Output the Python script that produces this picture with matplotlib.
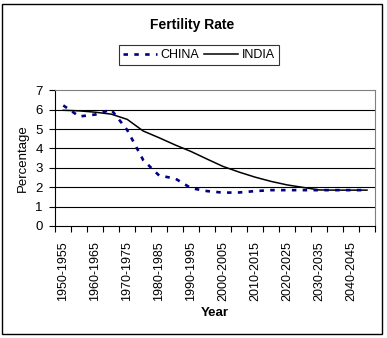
import matplotlib
matplotlib.use("Agg")
import matplotlib.pyplot as plt
from matplotlib.patches import Rectangle

plt.rcParams['font.family'] = ['Liberation Sans', 'DejaVu Sans']

periods = ["1950-1955", "1955-1960", "1960-1965", "1965-1970", "1970-1975",
           "1975-1980", "1980-1985", "1985-1990", "1990-1995", "1995-2000",
           "2000-2005", "2005-2010", "2010-2015", "2015-2020", "2020-2025",
           "2025-2030", "2030-2035", "2035-2040", "2040-2045", "2045-2050"]
china = [6.22, 5.65, 5.75, 6.0, 4.95, 3.4, 2.6, 2.45, 1.95, 1.8,
         1.72, 1.73, 1.8, 1.85, 1.85, 1.85, 1.85, 1.85, 1.85, 1.85]
india = [5.97, 5.94, 5.87, 5.77, 5.5, 4.9, 4.55, 4.18, 3.84, 3.45,
         3.07, 2.78, 2.52, 2.3, 2.12, 1.99, 1.86, 1.85, 1.85, 1.85]
yticks = [0, 1, 2, 3, 4, 5, 6, 7]

W, H = 387, 338
fig = plt.figure(figsize=(W / 100, H / 100), dpi=100)
fig.patch.set_facecolor('white')

def fx(px):
    return px / W

def fy(py):
    return 1 - py / H

# outer border
fig.patches.append(Rectangle((fx(2), fy(334)), (380) / W, (330) / H,
                             transform=fig.transFigure, fill=False,
                             edgecolor='black', linewidth=1.0))

ax = fig.add_axes([fx(55.3), fy(226), 319.7 / W, 135.7 / H])
x = list(range(len(periods)))

ax.plot(x, india, color='black', linewidth=1.1, label='INDIA', zorder=3)
ax.plot(x, china, color='#000080', linewidth=1.9, linestyle=(0, (1.7, 2.4)),
        dash_capstyle='butt', label='CHINA', zorder=4)

ax.set_xlim(-0.5, len(periods) - 0.5)
ax.set_ylim(0, 7)
ax.set_yticks(yticks)
for v in yticks[1:-1]:
    ax.axhline(v, color='black', linewidth=0.8, zorder=1)

ax.set_xticks([i - 0.5 for i in range(len(periods) + 1)])
ax.set_xticklabels([])
ax.set_xticks(x[::2], minor=True)
ax.set_xticklabels(periods[::2], minor=True, rotation=90, fontsize=9)
ax.tick_params(axis='x', which='minor', length=0, pad=11)
ax.tick_params(axis='x', which='major', length=4, width=0.8, direction='out')
ax.tick_params(axis='y', length=4, width=0.8, direction='out', pad=5, labelsize=9.5)

for s in ['top', 'right']:
    ax.spines[s].set_color('#808080')
    ax.spines[s].set_linewidth(0.8)
for s in ['left', 'bottom']:
    ax.spines[s].set_color('black')
    ax.spines[s].set_linewidth(0.8)

fig.text(fx(192), fy(25), 'Fertility Rate', ha='center', va='center',
         fontsize=10, fontweight='bold')
fig.text(fx(23), fy(158), 'Percentage', ha='center', va='center',
         rotation=90, fontsize=9.5)
fig.text(fx(215), fy(313), 'Year', ha='center', va='center',
         fontsize=9.5, fontweight='bold')

h, l = ax.get_legend_handles_labels()
leg = fig.legend(h[::-1], l[::-1], ncol=2, loc='center',
                 bbox_to_anchor=(fx(199), fy(55)), fontsize=9,
                 frameon=True, fancybox=False, edgecolor='black',
                 handlelength=2.7, handletextpad=0.3, columnspacing=0.4,
                 borderpad=0.3, borderaxespad=0)
leg.get_frame().set_linewidth(0.8)

fig.savefig('out.png', dpi=100, facecolor='white')
